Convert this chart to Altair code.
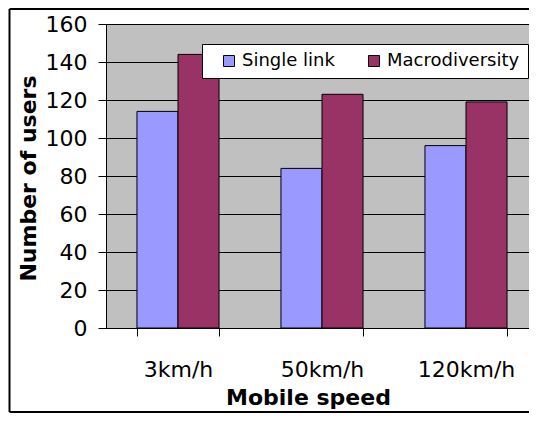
import altair as alt
import pandas as pd

speeds = ["3km/h", "50km/h", "120km/h"]
series = ["Single link", "Macrodiversity"]
single_link = [114, 84, 96]
macrodiversity = [144, 123, 119]
y_ticks = [0, 20, 40, 60, 80, 100, 120, 140, 160]
colors = ["#9999FF", "#993366"]

rows = []
for i, s in enumerate(speeds):
    rows.append({"speed": s, "series": series[0], "users": single_link[i]})
    rows.append({"speed": s, "series": series[1], "users": macrodiversity[i]})
df = pd.DataFrame(rows)

FONT = "DejaVu Sans"

bars = alt.Chart(df).mark_bar(stroke="black", strokeWidth=1).encode(
    x=alt.X(
        "speed:N",
        sort=speeds,
        scale=alt.Scale(paddingInner=0.43, paddingOuter=0.215),
        axis=alt.Axis(
            title="Mobile speed",
            labelAngle=0,
            tickBand="extent",
            tickSize=8,
            tickColor="black",
            domainColor="black",
            labelFontSize=22,
            labelFont=FONT,
            labelColor="black",
            labelPadding=23,
            titleFontSize=22,
            titleFont=FONT,
            titleFontWeight="bold",
            titleColor="black",
            titleX=202,
            titleY=69,
            titleBaseline="middle",
            grid=False,
        ),
    ),
    xOffset=alt.XOffset("series:N", sort=series),
    y=alt.Y(
        "users:Q",
        scale=alt.Scale(domain=[0, 160], nice=False),
        axis=alt.Axis(
            title="Number of users",
            values=y_ticks,
            tickSize=8,
            tickColor="black",
            domainColor="black",
            gridColor="black",
            gridOpacity=1,
            gridWidth=1,
            labelFontSize=22,
            labelFont=FONT,
            labelColor="black",
            labelPadding=11,
            titleFontSize=22,
            titleFont=FONT,
            titleFontWeight="bold",
            titleColor="black",
            titleX=-78,
            titleY=154,
            titleBaseline="middle",
        ),
    ),
    color=alt.Color(
        "series:N",
        sort=series,
        scale=alt.Scale(domain=series, range=colors),
        legend=alt.Legend(
            title=None,
            orient="none",
            legendX=96,
            legendY=20,
            direction="horizontal",
            columns=2,
            fillColor="white",
            strokeColor="black",
            padding=8,
            symbolType="square",
            symbolSize=121,
            symbolStrokeColor="black",
            symbolStrokeWidth=1,
            symbolOffset=10,
            labelOffset=4,
            labelFontSize=18,
            labelFont=FONT,
            labelColor="black",
            columnPadding=20,
        ),
    ),
)

border_df = pd.DataFrame({"k": [0]})
left_border = alt.Chart(border_df).mark_rule(color="black", strokeWidth=2).encode(
    x=alt.value(-96.5), y=alt.value(-15), y2=alt.value(388)
)
top_border = alt.Chart(border_df).mark_rule(color="black", strokeWidth=2).encode(
    x=alt.value(-96.5), x2=alt.value(423), y=alt.value(-15)
)
bottom_border = alt.Chart(border_df).mark_rule(color="black", strokeWidth=2).encode(
    x=alt.value(-96.5), x2=alt.value(423), y=alt.value(388)
)

chart = alt.layer(bars, left_border, top_border, bottom_border).properties(
    width=432,
    height=304,
    autosize=alt.AutoSizeParams(type="none"),
    padding={"left": 98, "top": 16, "right": -9, "bottom": 85},
    background="white",
).configure_view(fill="#C0C0C0", strokeWidth=0)

chart.save("out.html", embed_options={"renderer": "svg", "actions": False})
